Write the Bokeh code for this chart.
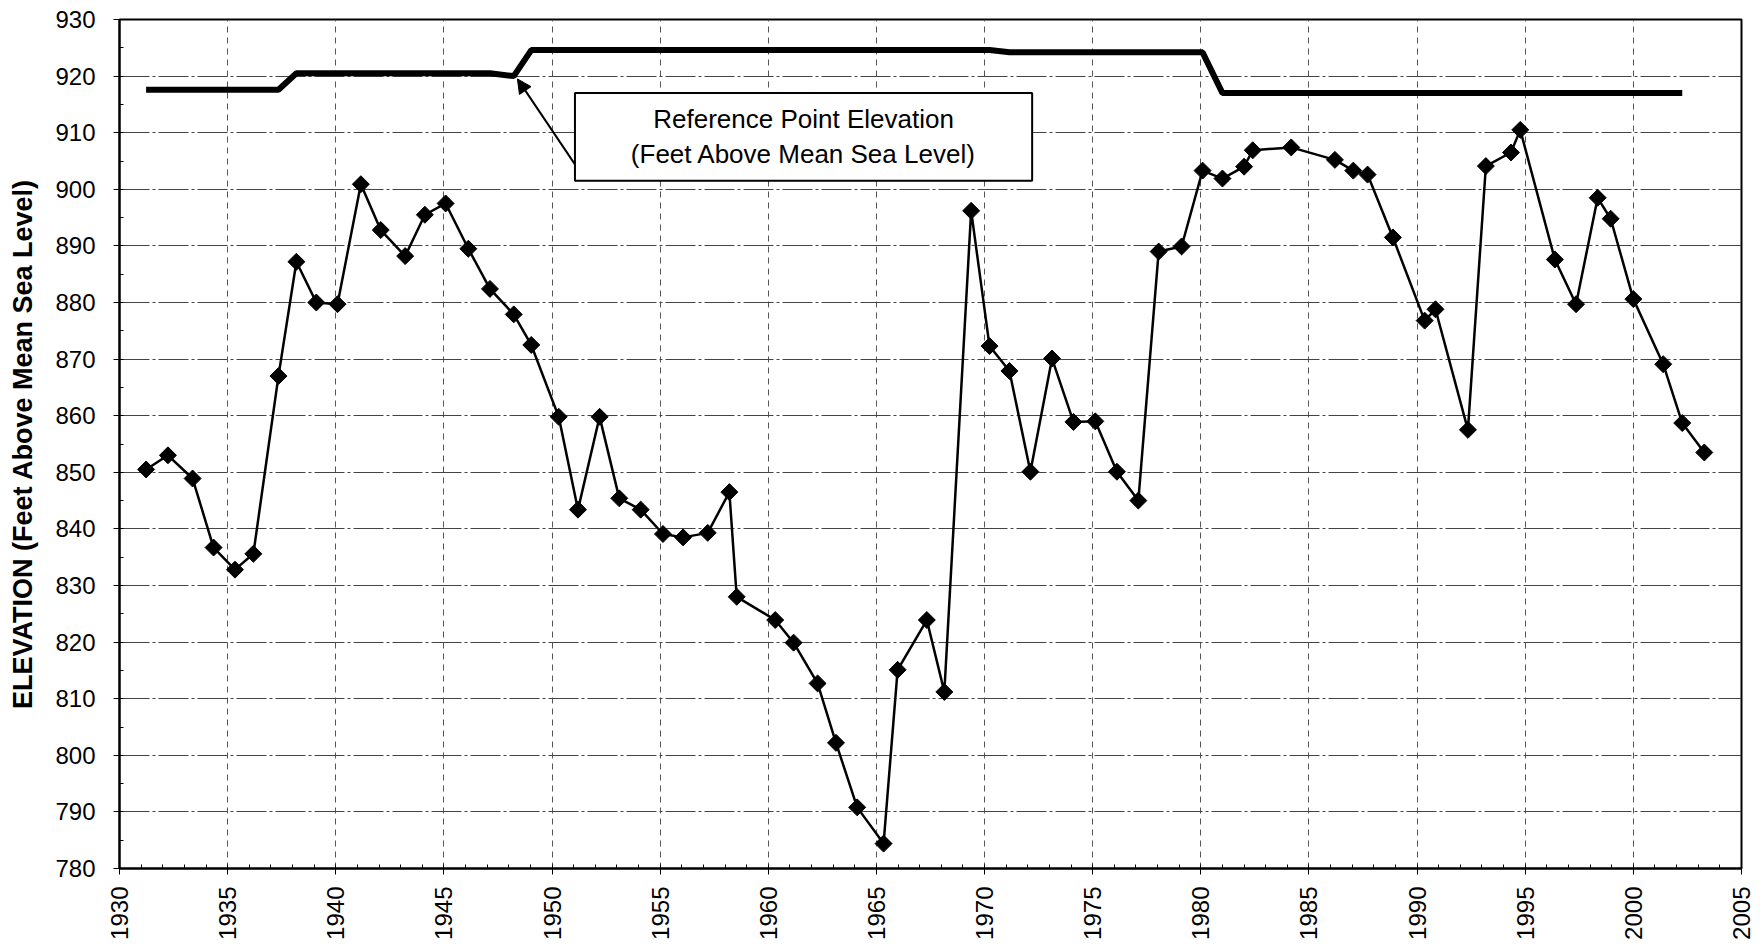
import numpy as np
from bokeh.plotting import figure
from bokeh.models import Range1d, FixedTicker, BoxAnnotation, Arrow, NormalHead, Label
from bokeh.embed import file_html
from bokeh.resources import INLINE

# ---- data ----
years = [1931.23, 1932.24, 1933.38, 1934.35, 1935.34, 1936.19, 1937.35, 1938.18, 1939.10, 1940.08,
         1941.16, 1942.08, 1943.21, 1944.12, 1945.08, 1946.13, 1947.13, 1948.23, 1949.04, 1950.31,
         1951.20, 1952.20, 1953.11, 1954.10, 1955.13, 1956.06, 1957.20, 1958.20, 1958.54, 1960.32,
         1961.17, 1962.28, 1963.13, 1964.11, 1965.33, 1965.98, 1967.33, 1968.14, 1969.38, 1970.23,
         1971.15, 1972.12, 1973.12, 1974.11, 1975.12, 1976.12, 1977.11, 1978.05, 1979.11, 1980.08,
         1981.00, 1982.00, 1982.40, 1984.18, 1986.20, 1987.05, 1987.71, 1988.88, 1990.35, 1990.85,
         1992.35, 1993.18, 1994.34, 1994.77, 1996.37, 1997.35, 1998.35, 1998.95, 2000.00, 2001.38,
         2002.26, 2003.28]
elevations = [850.5, 853.0, 848.9, 836.7, 832.8, 835.6, 867.0, 887.2, 880.0, 879.7,
              900.9, 892.8, 888.2, 895.5, 897.5, 889.5, 882.4, 877.9, 872.5, 859.8,
              843.4, 859.8, 845.4, 843.4, 839.1, 838.5, 839.3, 846.5, 828.0, 823.9,
              819.9, 812.7, 802.2, 790.8, 784.4, 815.1, 823.9, 811.2, 896.2, 872.3,
              867.9, 850.1, 870.1, 858.9, 859.0, 850.1, 845.0, 889.0, 889.9, 903.3,
              901.9, 904.0, 906.9, 907.4, 905.2, 903.3, 902.6, 891.5, 876.8, 878.8,
              857.5, 904.1, 906.5, 910.5, 887.6, 879.7, 898.5, 894.8, 880.6, 869.1,
              858.7, 853.5]

ref_years = [1931.23, 1937.35, 1938.18, 1947.13, 1948.23, 1949.04, 1970.23, 1971.15, 1980.08, 1981.00, 2002.26]
ref_elev = [917.6, 917.6, 920.5, 920.5, 920.0, 924.6, 924.6, 924.2, 924.2, 917.0, 917.0]

x_ticks = list(range(1930, 2006, 5))
x_minor = list(range(1930, 2006, 1))
y_ticks = list(range(780, 931, 10))
y_minor = list(range(780, 931, 5))

y_title = "ELEVATION (Feet Above Mean Sea Level)"
note_lines = ["Reference Point Elevation", "(Feet Above Mean Sea Level)"]

FONT = "Liberation Sans"

p = figure(frame_width=1622, frame_height=849,
           x_range=Range1d(1930, 2005), y_range=Range1d(780, 930),
           output_backend="svg", toolbar_location=None,
           min_border_left=119, min_border_top=19, min_border_right=14, min_border_bottom=60,
           background_fill_color="white", border_fill_color="white")

p.outline_line_color = "black"
p.outline_line_width = 2

# axes
p.xaxis.ticker = FixedTicker(ticks=x_ticks, minor_ticks=x_minor)
p.yaxis.ticker = FixedTicker(ticks=y_ticks, minor_ticks=y_minor)
for ax in (p.xaxis[0], p.yaxis[0]):
    ax.axis_line_color = "black"
    ax.axis_line_width = 2
    ax.major_tick_line_color = "black"
    ax.major_tick_line_width = 1
    ax.minor_tick_line_color = "black"
    ax.minor_tick_line_width = 1
    ax.major_tick_out = 6
    ax.major_tick_in = 0
    ax.minor_tick_out = 0
    ax.minor_tick_in = 4
    ax.major_label_text_font = FONT
    ax.major_label_text_font_size = "24px"
    ax.major_label_text_color = "black"

p.xaxis.major_label_orientation = np.pi / 2
p.xaxis.major_label_standoff = 12
p.yaxis.major_label_standoff = 18

p.yaxis.axis_label = y_title
p.yaxis.axis_label_text_font = FONT
p.yaxis.axis_label_text_font_style = "bold"
p.yaxis.axis_label_text_font_size = "27px"
p.yaxis.axis_label_text_color = "black"
p.yaxis.axis_label_standoff = 14

# grid
p.xgrid.ticker = FixedTicker(ticks=x_ticks)
p.ygrid.ticker = FixedTicker(ticks=y_ticks)
p.xgrid.grid_line_color = "#555555"
p.xgrid.grid_line_dash = "6 5"
p.xgrid.grid_line_width = 1
p.ygrid.grid_line_color = "#444444"
p.ygrid.grid_line_dash = "30 3 3 3"
p.ygrid.grid_line_width = 1

# series
p.line(ref_years, ref_elev, line_color="black", line_width=6)
p.line(years, elevations, line_color="black", line_width=2.5)
p.scatter(years, elevations, marker="square", angle=np.pi / 4, size=12,
          fill_color="black", line_color="black")

# callout
box_left, box_right, box_top, box_bottom = 1951.06, 1972.2, 917.0, 901.5
p.add_layout(BoxAnnotation(left=box_left, right=box_right, top=box_top, bottom=box_bottom,
                           fill_color="white", fill_alpha=1.0,
                           line_color="black", line_alpha=1.0, line_width=2, level="overlay"))
cx = (box_left + box_right) / 2
for txt, yy in zip(note_lines, [912.4, 906.2]):
    p.add_layout(Label(x=cx, y=yy, text=txt, text_align="center", text_baseline="middle",
                       text_font=FONT, text_font_size="26px", text_color="black", level="overlay"))
p.add_layout(Arrow(end=NormalHead(size=14, fill_color="black", line_color="black"),
                   x_start=box_left, y_start=904.4, x_end=1948.4, y_end=919.5,
                   line_color="black", line_width=2))

open("out.html", "w").write(file_html(p, INLINE))
